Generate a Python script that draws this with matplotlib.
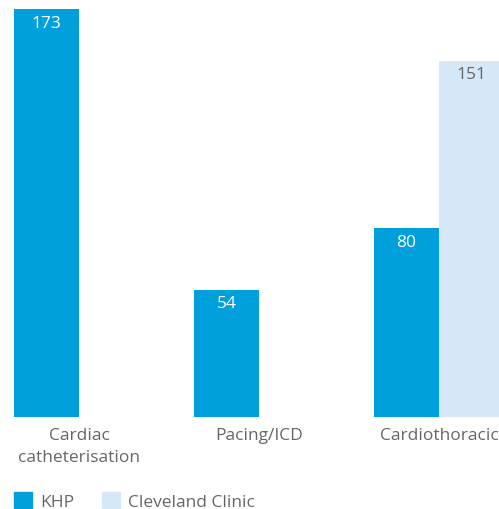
import numpy as np
import matplotlib.pyplot as plt
from matplotlib.patches import Patch

categories = ["Cardiac\ncatheterisation", "Pacing/ICD", "Cardiothoracic"]
khp = [173, 54, 80]
cleveland = [None, None, 151]

blue = "#00A0DC"
light = "#D6E7F8"
grey = "#666666"

plt.rcParams['font.family'] = ['Open Sans', 'DejaVu Sans']

fig = plt.figure(figsize=(4.99, 5.10), dpi=100)
ax = fig.add_axes([0, (510 - 418) / 510, 1, 408 / 510])

x = np.arange(len(categories))
w = 65 / 180

ax.bar(x - w / 2, khp, width=w, color=blue)
for i, v in enumerate(khp):
    ax.annotate(str(v), (x[i] - w / 2, v), xytext=(0, -4), textcoords='offset points',
                ha='center', va='top', color='white', fontsize=12.5)

for i, v in enumerate(cleveland):
    if v is None:
        continue
    ax.bar(x[i] + w / 2, v, width=w, color=light)
    ax.annotate(str(v), (x[i] + w / 2, v), xytext=(0, -4), textcoords='offset points',
                ha='center', va='top', color=grey, fontsize=12.5)

ax.set_xlim(-79 / 180, 420 / 180)
ax.set_ylim(0, 173)
ax.axis('off')

for i, c in enumerate(categories):
    ax.annotate(c, (x[i], 0), xytext=(0, -7.5), textcoords='offset points',
                ha='center', va='top', color=grey, fontsize=12.5, linespacing=1.45)

handles = [Patch(color=blue), Patch(color=light)]
fig.legend(handles, ["KHP", "Cleveland Clinic"], loc='lower left',
           bbox_to_anchor=(14 / 499, -0.002), ncol=2, frameon=False, fontsize=12.5,
           labelcolor=grey, handlelength=1.05, handleheight=1.05,
           handletextpad=0.45, columnspacing=1.6, borderaxespad=0.0, borderpad=0.0)

fig.savefig("out.png", dpi=100)
